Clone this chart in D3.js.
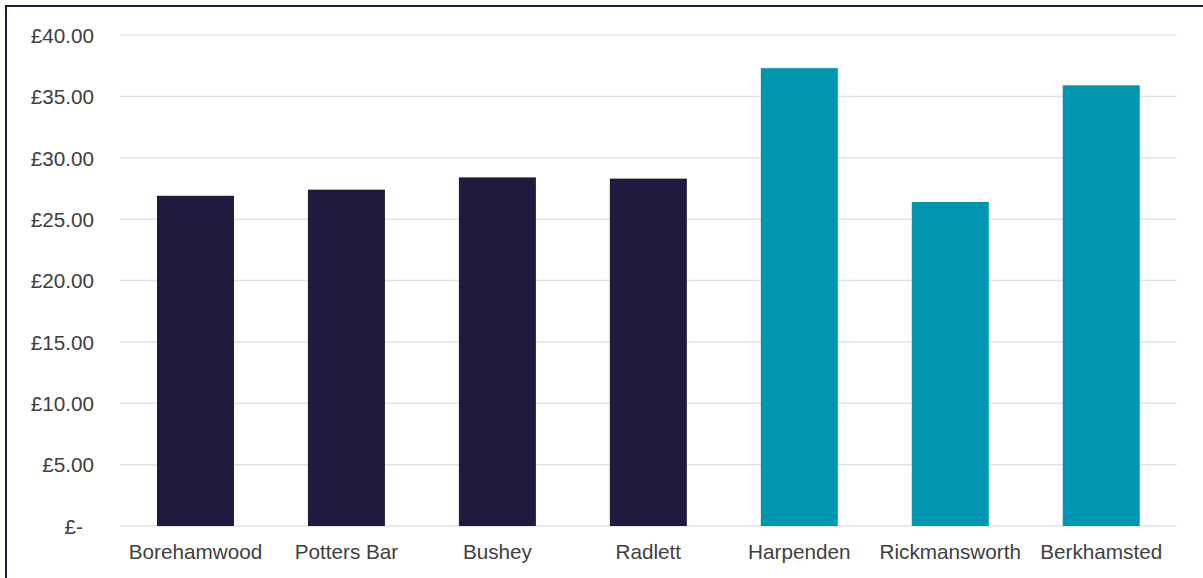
<!DOCTYPE html>
<html>
<head>
<meta charset="utf-8">
<script src="https://cdn.jsdelivr.net/npm/d3@7"></script>
<style>
  html, body { margin: 0; padding: 0; background: #ffffff; }
  svg { display: block; }
</style>
</head>
<body>
<svg id="chart" width="1203" height="578"></svg>
<script>
// Average price by town
const towns = ["Borehamwood", "Potters Bar", "Bushey", "Radlett", "Harpenden", "Rickmansworth", "Berkhamsted"];
const prices = [26.9, 27.4, 28.4, 28.3, 37.3, 26.4, 35.9];
const groups = ["a", "a", "a", "a", "b", "b", "b"];
const yTicks = [0, 5, 10, 15, 20, 25, 30, 35, 40];

const W = 1203, H = 578;
const plot = { left: 120, right: 1176.7, top: 35, bottom: 526 };
const colors = { a: "#1f1a3f", b: "#0095b0" };
const FONT = "Liberation Sans, Arial, sans-serif";
const FONT_SIZE = 20.7;

const svg = d3.select("#chart");

// outer frame
svg.append("rect")
  .attr("x", 6).attr("y", 6)
  .attr("width", W + 20).attr("height", H + 20)
  .attr("fill", "none")
  .attr("stroke", "#1f1a3f")
  .attr("stroke-width", 2);

const x = d3.scaleBand()
  .domain(towns)
  .range([plot.left, plot.right])
  .paddingInner(0.49)
  .paddingOuter(0.245);

const y = d3.scaleLinear()
  .domain([0, 40])
  .range([plot.bottom, plot.top]);

// gridlines
svg.append("g")
  .selectAll("line")
  .data(yTicks)
  .join("line")
  .attr("x1", plot.left).attr("x2", plot.right)
  .attr("y1", d => y(d)).attr("y2", d => y(d))
  .attr("stroke", "#e2e2e2")
  .attr("stroke-width", 1.5);

// y axis labels
const fmt = d => d === 0 ? "£-" : "£" + d.toFixed(2);
const yAxis = d3.axisLeft(y).tickValues(yTicks).tickFormat(fmt).tickSize(0).tickPadding(0);
const gy = svg.append("g")
  .attr("transform", `translate(${plot.left - 26},0)`)
  .call(yAxis);
gy.select(".domain").remove();
gy.selectAll("text")
  .attr("font-family", FONT)
  .attr("font-size", FONT_SIZE)
  .attr("fill", "#404040")
  .attr("dy", "0.35em")
  .attr("x", d => d === 0 ? -11 : 0);

// bars
svg.append("g")
  .selectAll("rect")
  .data(towns)
  .join("rect")
  .attr("x", d => x(d))
  .attr("width", x.bandwidth())
  .attr("y", (d, i) => y(prices[i]))
  .attr("height", (d, i) => y(0) - y(prices[i]))
  .attr("fill", (d, i) => colors[groups[i]]);

// x axis labels
const xAxis = d3.axisBottom(x).tickSize(0).tickPadding(0);
const gx = svg.append("g")
  .attr("transform", `translate(0,${plot.bottom})`)
  .call(xAxis);
gx.select(".domain").remove();
gx.selectAll("text")
  .attr("font-family", FONT)
  .attr("font-size", FONT_SIZE)
  .attr("fill", "#404040")
  .attr("y", 33)
  .attr("dy", 0);
</script>
</body>
</html>
